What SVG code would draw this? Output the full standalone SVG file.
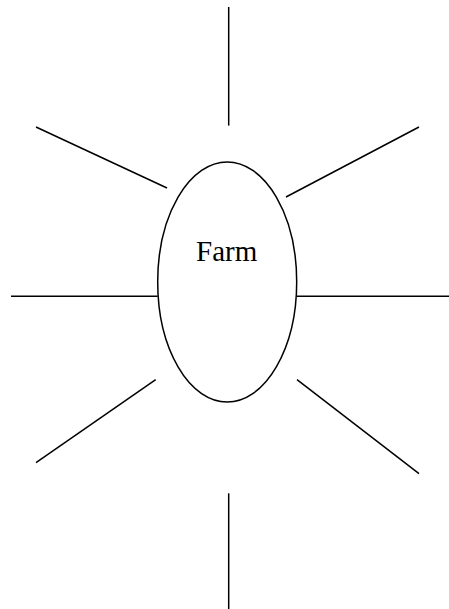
<svg xmlns="http://www.w3.org/2000/svg" width="449" height="609" viewBox="0 0 449 609">
<style>
.ln{stroke:#000;stroke-width:1.5;fill:none}
.nd{stroke:#000;stroke-width:1.5;fill:#fff}
.lb{font-family:"Liberation Serif","Times New Roman",serif;font-size:29px;fill:#000}
</style>
<rect width="449" height="609" fill="#fff"/>
<g id="connectors">
<line class="ln" x1="228.7" y1="7" x2="228.7" y2="125.6"/>
<line class="ln" x1="36" y1="127" x2="167" y2="188"/>
<line class="ln" x1="286" y1="197" x2="419" y2="127"/>
<line class="ln" x1="11" y1="296.3" x2="157.7" y2="296.3"/>
<line class="ln" x1="296.7" y1="296.3" x2="449" y2="296.3"/>
<line class="ln" x1="155.7" y1="379.7" x2="36" y2="462.7"/>
<line class="ln" x1="297" y1="379.7" x2="419" y2="473.7"/>
<line class="ln" x1="228.7" y1="493.3" x2="228.7" y2="609"/>
</g>
<g id="farm">
<ellipse class="nd" cx="227.2" cy="282" rx="69.5" ry="120"/>
<text class="lb" x="226.7" y="261" text-anchor="middle">Farm</text>
</g>
</svg>
